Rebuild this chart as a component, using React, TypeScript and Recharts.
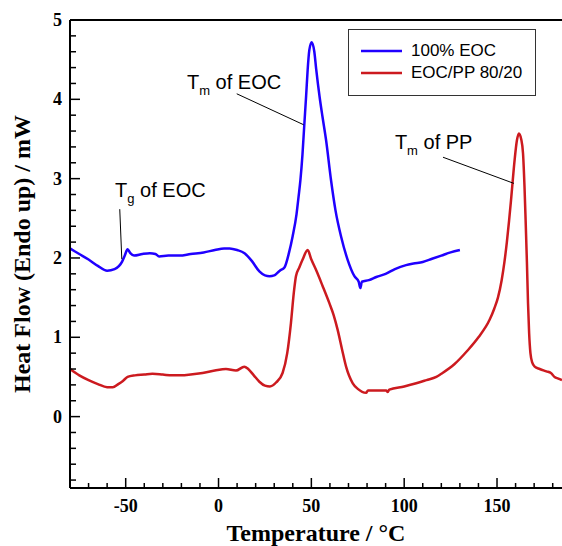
import React from 'react'
import { LineChart, Line, XAxis, YAxis, ReferenceLine, ReferenceDot } from 'recharts'

// 100% EOC trace
const eocTemp = [
  -80, -75, -70, -65, -60, -56, -52, -50.5, -49, -47.5, -45.5, -41, -37, -34, -32, -27, -21, -15, -8, -2,
  3, 6, 10, 14, 18, 22, 25, 27.5, 30, 33, 35.5, 38, 39.9, 42, 43.1, 44.1, 45.2, 46.2, 47.2, 48, 48.9,
  50.2, 51.6, 52.6, 53.5, 54.5, 56, 57.9, 60.6, 63, 66, 69.5, 73.2, 75.5, 76.4, 77.2, 81, 85, 90, 95, 101, 105,
  110, 115, 120, 125, 130,
]
const eocFlow = [
  2.12, 2.05, 1.98, 1.9, 1.84, 1.86, 1.95, 2.03, 2.11, 2.06, 2.03, 2.05, 2.06, 2.05, 2.02, 2.03, 2.03, 2.05, 2.07, 2.1,
  2.12, 2.12, 2.1, 2.06, 1.96, 1.83, 1.78, 1.77, 1.78, 1.84, 1.88, 2.07, 2.27, 2.55, 2.77, 2.98, 3.3, 3.68, 4.05, 4.37, 4.62,
  4.72, 4.6, 4.38, 4.2, 4.02, 3.78, 3.49, 2.98, 2.6, 2.27, 1.98, 1.77, 1.7, 1.62, 1.7, 1.72, 1.76, 1.8, 1.86, 1.91, 1.93,
  1.95, 1.99, 2.03, 2.07, 2.1,
]

// EOC/PP 80/20 trace
const blendTemp = [
  -80, -75, -70, -65, -60, -57, -54, -51.5, -49, -45, -40, -35.6, -30, -25, -20, -15, -8.6, -2, 4, 9.4,
  13.9, 16, 19, 22, 25, 27.7, 31, 34.5, 37, 39, 40.5, 41.7, 43.5, 45.3, 48, 50, 52.5, 56, 59.7, 62,
  64.2, 66.5, 68.7, 72.3, 75, 79.5, 80.5, 85, 90.3, 91, 92, 100, 106.5, 112, 117.3, 120, 127, 134,
  140, 146, 148.5, 150.5, 152.5, 154, 155.3, 156.5, 157.7, 159.5, 160.7, 161.8, 163, 164, 164.8, 165.4, 166.1,
  166.7, 167.3, 168, 169, 170.3, 173, 176.6, 179, 181, 183, 185,
]
const blendFlow = [
  0.6, 0.52, 0.46, 0.41, 0.37, 0.37, 0.41, 0.45, 0.5, 0.52, 0.53, 0.54, 0.53, 0.52, 0.52, 0.53, 0.55, 0.58, 0.6, 0.58,
  0.63, 0.6, 0.52, 0.44, 0.39, 0.38, 0.43, 0.55, 0.8, 1.18, 1.55, 1.77, 1.88, 1.98, 2.1, 1.98, 1.85, 1.65, 1.43, 1.28,
  1.09, 0.85, 0.63, 0.42, 0.35, 0.3, 0.33, 0.33, 0.33, 0.31, 0.34, 0.38, 0.42, 0.46, 0.5, 0.54, 0.66, 0.83,
  1.0, 1.22, 1.36, 1.5, 1.72, 1.95, 2.2, 2.47, 2.77, 3.24, 3.48, 3.57, 3.5, 3.32, 2.9, 2.48, 1.95,
  1.43, 1.05, 0.8, 0.68, 0.63, 0.6, 0.57, 0.55, 0.5, 0.48, 0.46,
]

const xTicks = [-80, -70, -60, -50, -40, -30, -20, -10, 0, 10, 20, 30, 40, 50, 60, 70, 80, 90, 100, 110, 120, 130, 140, 150, 160, 170, 180]
const yTicks = [-0.8, -0.6, -0.4, -0.2, 0, 0.2, 0.4, 0.6, 0.8, 1, 1.2, 1.4, 1.6, 1.8, 2, 2.2, 2.4, 2.6, 2.8, 3, 3.2, 3.4, 3.6, 3.8, 4, 4.2, 4.4, 4.6, 4.8, 5]

const eocData = eocTemp.map((x, i) => ({ x, y: eocFlow[i] }))
const blendData = blendTemp.map((x, i) => ({ x, y: blendFlow[i] }))

const BLUE = '#2000ff'
const RED = '#cc1a1f'
const serif = '"Liberation Serif", "Times New Roman", serif'
const sans = '"Liberation Sans", Arial, sans-serif'

const XTick = (props: any) => {
  const { x, y, payload } = props
  const major = payload.value % 50 === 0
  return (
    <g>
      <line x1={x} x2={x} y1={y} y2={y - (major ? 10 : 5)} stroke="#000" strokeWidth={1.5} />
      {major && (
        <text x={x} y={y + 24} textAnchor="middle" fontFamily={serif} fontWeight="bold" fontSize={18} fill="#000">
          {payload.value}
        </text>
      )}
    </g>
  )
}

const YTick = (props: any) => {
  const { x, y, payload } = props
  const v = payload.value
  const major = Math.abs(v - Math.round(v)) < 1e-6
  return (
    <g>
      <line x1={x} x2={x + (major ? 10 : 6)} y1={y} y2={y} stroke="#000" strokeWidth={1.5} />
      {major && (
        <text x={x - 8} y={y + 6} textAnchor="end" fontFamily={serif} fontWeight="bold" fontSize={18} fill="#000">
          {Math.round(v)}
        </text>
      )}
    </g>
  )
}

const XTitle = (props: any) => {
  const vb = props.viewBox || { x: 70, y: 488, width: 492 }
  return (
    <text x={vb.x + vb.width / 2} y={vb.y + 53} textAnchor="middle" fontFamily={serif} fontWeight="bold" fontSize={24} fill="#000">
      Temperature / °C
    </text>
  )
}

const YTitle = (props: any) => {
  const vb = props.viewBox || { x: 0, y: 20, height: 468 }
  const cx = vb.x + 30
  const cy = vb.y + vb.height / 2
  return (
    <text x={cx} y={cy} transform={`rotate(-90, ${cx}, ${cy})`} textAnchor="middle" fontFamily={serif} fontWeight="bold" fontSize={24} fill="#000">
      Heat Flow (Endo up) / mW
    </text>
  )
}

const note = (main: string, sub: string, rest: string) => (p: any) => (
  <text x={p.cx} y={p.cy} fontFamily={sans} fontSize={20} fill="#000">
    {main}
    <tspan dy={6} fontSize={13}>{sub}</tspan>
    <tspan dy={-6}>{rest}</tspan>
  </text>
)

export default function App() {
  return (
    <div style={{ position: 'fixed', left: 0, top: 0, width: 562, height: 546, background: '#fff' }}>
      <LineChart width={562} height={546} margin={{ top: 20, right: 0, left: 0, bottom: 0 }}>
        <XAxis
          dataKey="x"
          type="number"
          domain={[-80, 185]}
          ticks={xTicks}
          interval={0}
          allowDataOverflow
          height={58}
          tickSize={0}
          tickMargin={0}
          tickLine={false}
          axisLine={{ stroke: '#000', strokeWidth: 2 }}
          tick={<XTick />}
          label={<XTitle />}
        />
        <YAxis
          type="number"
          domain={[-0.9, 5]}
          ticks={yTicks}
          interval={0}
          allowDataOverflow
          width={70}
          tickSize={0}
          tickMargin={0}
          tickLine={false}
          axisLine={{ stroke: '#000', strokeWidth: 2 }}
          tick={<YTick />}
          label={<YTitle />}
        />
        <ReferenceLine y={5} stroke="#000" strokeWidth={2} />
        <Line data={eocData} dataKey="y" type="monotone" stroke={BLUE} strokeWidth={2.5} dot={false} isAnimationActive={false} />
        <Line data={blendData} dataKey="y" type="monotone" stroke={RED} strokeWidth={2.5} dot={false} isAnimationActive={false} />
        <ReferenceLine segment={[{ x: 9.8, y: 4.07 }, { x: 45.8, y: 3.68 }]} stroke="#000" strokeWidth={1} />
        <ReferenceLine segment={[{ x: -53.2, y: 2.615 }, { x: -52.1, y: 1.985 }]} stroke="#000" strokeWidth={1} />
        <ReferenceLine segment={[{ x: 120.9, y: 3.27 }, { x: 159.1, y: 2.94 }]} stroke="#000" strokeWidth={1} />
        <ReferenceDot x={-17} y={4.126} r={0} shape={note('T', 'm', ' of EOC')} />
        <ReferenceDot x={-55.7} y={2.767} r={0} shape={note('T', 'g', ' of EOC')} />
        <ReferenceDot x={95} y={3.372} r={0} shape={note('T', 'm', ' of PP')} />
      </LineChart>
      <div
        style={{
          position: 'absolute',
          left: 348,
          top: 29,
          width: 188,
          height: 67,
          border: '1px solid #333',
          background: '#fff',
          boxSizing: 'border-box',
          fontFamily: sans,
          fontSize: 17,
        }}
      >
        {[
          { name: '100% EOC', color: BLUE },
          { name: 'EOC/PP 80/20', color: RED },
        ].map((item, i) => (
          <div key={item.name} style={{ position: 'absolute', left: 12, top: 10 + i * 22, height: 22, display: 'flex', alignItems: 'center' }}>
            <svg width={41} height={4} style={{ marginRight: 9 }}>
              <line x1={0} x2={41} y1={2} y2={2} stroke={item.color} strokeWidth={2.5} />
            </svg>
            <span>{item.name}</span>
          </div>
        ))}
      </div>
    </div>
  )
}
